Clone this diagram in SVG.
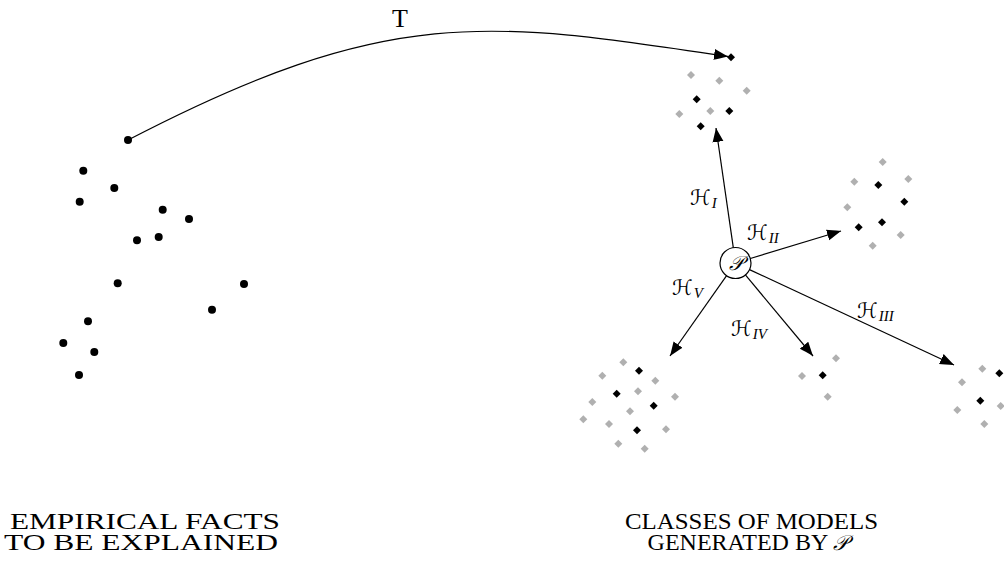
<svg xmlns="http://www.w3.org/2000/svg" xmlns:xlink="http://www.w3.org/1999/xlink" width="1004" height="563" viewBox="0 0 1004 563">
<style>
.lbl{font-family:"Liberation Serif","DejaVu Serif",serif;fill:#000}
.cal{font-family:"DejaVu Sans","Noto Sans",sans-serif;font-style:italic;font-size:21px}
.sub{font-family:"Liberation Serif","DejaVu Serif",serif;font-style:italic;font-size:15px}
.con{fill:none;stroke:#000;stroke-width:1.2}
.k{fill:#000}
.g{fill:#b0b0b0}
</style>
<defs>
<marker id="arr" markerWidth="16" markerHeight="12" refX="14" refY="6" orient="auto" markerUnits="userSpaceOnUse" viewBox="0 0 16 12">
<path d="M14,6 Q5,2.5 0,0.5 L0,11.5 Q5,9.5 14,6 Z" fill="#000"/>
</marker>
<path id="dm" d="M0,-4 L4,0 L0,4 L-4,0 Z"/>
<circle id="dot" r="4"/>
</defs>

<g id="facts">
<use xlink:href="#dot" x="128" y="140"/>
<use xlink:href="#dot" x="83.3" y="170.7"/>
<use xlink:href="#dot" x="114.3" y="188"/>
<use xlink:href="#dot" x="79.7" y="201.7"/>
<use xlink:href="#dot" x="162.7" y="209.7"/>
<use xlink:href="#dot" x="189" y="219"/>
<use xlink:href="#dot" x="137" y="240.3"/>
<use xlink:href="#dot" x="158.7" y="237"/>
<use xlink:href="#dot" x="117.7" y="283.3"/>
<use xlink:href="#dot" x="244" y="284"/>
<use xlink:href="#dot" x="212" y="309.7"/>
<use xlink:href="#dot" x="88" y="321.3"/>
<use xlink:href="#dot" x="63.3" y="343"/>
<use xlink:href="#dot" x="94.3" y="352"/>
<use xlink:href="#dot" x="79" y="375"/>
</g>

<g id="classI">
<use xlink:href="#dm" class="g" x="691" y="75"/>
<use xlink:href="#dm" class="g" x="719.3" y="80.7"/>
<use xlink:href="#dm" class="g" x="746.7" y="90.7"/>
<use xlink:href="#dm" class="g" x="679.3" y="114"/>
<use xlink:href="#dm" class="g" x="710.3" y="111"/>
<use xlink:href="#dm" class="k" x="731" y="57.3"/>
<use xlink:href="#dm" class="k" x="696.7" y="99.3"/>
<use xlink:href="#dm" class="k" x="729.3" y="111"/>
<use xlink:href="#dm" class="k" x="700.7" y="126.3"/>
</g>

<g id="classII">
<use xlink:href="#dm" class="g" x="882.7" y="162"/>
<use xlink:href="#dm" class="g" x="908.3" y="179"/>
<use xlink:href="#dm" class="g" x="854.3" y="181.7"/>
<use xlink:href="#dm" class="g" x="847.3" y="207.3"/>
<use xlink:href="#dm" class="g" x="900.7" y="235"/>
<use xlink:href="#dm" class="g" x="872.7" y="245.7"/>
<use xlink:href="#dm" class="k" x="878.3" y="185"/>
<use xlink:href="#dm" class="k" x="904.3" y="201.7"/>
<use xlink:href="#dm" class="k" x="882" y="222.3"/>
<use xlink:href="#dm" class="k" x="858.7" y="227.3"/>
</g>

<g id="classIII">
<use xlink:href="#dm" class="g" x="982.3" y="368.7"/>
<use xlink:href="#dm" class="g" x="962" y="382.3"/>
<use xlink:href="#dm" class="g" x="957.3" y="410"/>
<use xlink:href="#dm" class="g" x="1000.7" y="406"/>
<use xlink:href="#dm" class="g" x="984.3" y="424"/>
<use xlink:href="#dm" class="k" x="999.3" y="373.3"/>
<use xlink:href="#dm" class="k" x="980.3" y="400.7"/>
</g>

<g id="classIV">
<use xlink:href="#dm" class="g" x="836" y="358.3"/>
<use xlink:href="#dm" class="g" x="802" y="376"/>
<use xlink:href="#dm" class="g" x="827.7" y="396.7"/>
<use xlink:href="#dm" class="k" x="822.7" y="375.3"/>
</g>

<g id="classV">
<use xlink:href="#dm" class="g" x="623.3" y="362.3"/>
<use xlink:href="#dm" class="g" x="602.3" y="375.7"/>
<use xlink:href="#dm" class="g" x="655.3" y="380.7"/>
<use xlink:href="#dm" class="g" x="638" y="391.3"/>
<use xlink:href="#dm" class="g" x="675" y="396.7"/>
<use xlink:href="#dm" class="g" x="592.3" y="402"/>
<use xlink:href="#dm" class="g" x="630" y="411.3"/>
<use xlink:href="#dm" class="g" x="583.3" y="419.3"/>
<use xlink:href="#dm" class="g" x="609" y="424"/>
<use xlink:href="#dm" class="g" x="666" y="429.3"/>
<use xlink:href="#dm" class="g" x="618.3" y="443.7"/>
<use xlink:href="#dm" class="g" x="644.7" y="448.7"/>
<use xlink:href="#dm" class="k" x="639" y="370.7"/>
<use xlink:href="#dm" class="k" x="616.7" y="393.7"/>
<use xlink:href="#dm" class="k" x="653.7" y="405.7"/>
<use xlink:href="#dm" class="k" x="637" y="430.3"/>
</g>

<g id="P">
<circle cx="735.5" cy="263" r="15.5" fill="#fff" stroke="#000" stroke-width="1.2"/>
<text x="735.5" y="270" text-anchor="middle" class="cal" style="font-size:20px">𝒫</text>
</g>

<g id="connectors">
<path class="con" d="M128,140 C388,4.8 487,20 728,56.5" marker-end="url(#arr)"/>
<line class="con" x1="733.3" y1="247.7" x2="716" y2="128" marker-end="url(#arr)"/>
<line class="con" x1="750.3" y1="258.5" x2="841" y2="231" marker-end="url(#arr)"/>
<line class="con" x1="749.5" y1="269.6" x2="954" y2="365" marker-end="url(#arr)"/>
<line class="con" x1="745.4" y1="274.9" x2="813" y2="356" marker-end="url(#arr)"/>
<line class="con" x1="726.6" y1="275.7" x2="670" y2="356" marker-end="url(#arr)"/>
</g>

<g id="labels">
<text class="lbl" x="400" y="27" text-anchor="middle" style="font-size:26px">T</text>
<text class="cal" x="690" y="205">ℋ<tspan class="sub" dx="1" dy="3">I</tspan></text>
<text class="cal" x="747" y="240">ℋ<tspan class="sub" dx="1" dy="3">II</tspan></text>
<text class="cal" x="672" y="295">ℋ<tspan class="sub" dx="1" dy="3">V</tspan></text>
<text class="cal" x="731" y="336">ℋ<tspan class="sub" dx="1" dy="3">IV</tspan></text>
<text class="cal" x="857" y="318">ℋ<tspan class="sub" dx="1" dy="3">III</tspan></text>
<text class="lbl" style="font-size:24px" text-anchor="middle"><tspan x="145" y="529" textLength="270" lengthAdjust="spacingAndGlyphs">EMPIRICAL FACTS</tspan><tspan x="141" y="550" textLength="274" lengthAdjust="spacingAndGlyphs">TO BE EXPLAINED</tspan></text>
<text class="lbl" style="font-size:24px" text-anchor="middle"><tspan x="751.5" y="529" textLength="253" lengthAdjust="spacingAndGlyphs">CLASSES OF MODELS</tspan><tspan x="748" y="550">GENERATED BY <tspan class="cal" style="font-size:21px">𝒫</tspan></tspan></text>
</g>
</svg>
